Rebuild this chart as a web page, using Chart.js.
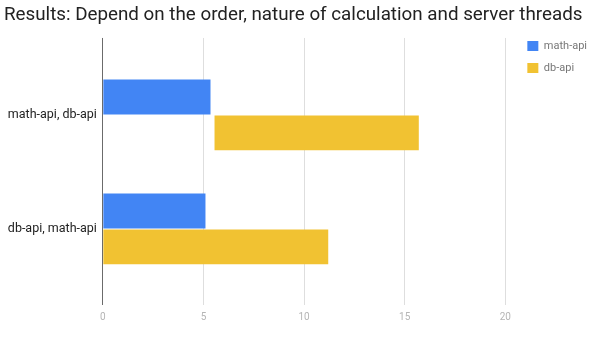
<!DOCTYPE html>
<html>
<head>
<meta charset="utf-8">
<script src="https://cdn.jsdelivr.net/npm/chart.js@4"></script>
<style>
  html, body { margin: 0; padding: 0; background: #fff; }
  #wrap { width: 600px; height: 340px; }
</style>
</head>
<body>
<div id="wrap"><canvas id="results-chart"></canvas></div>
<script>
// chart data
const categories = ['math-api, db-api', 'db-api, math-api'];
const mathApi = [5.35, 5.1];
// db-api bars are [start, end] pairs, the first run starts after math-api
const dbApi = [[5.55, 15.7], [0, 11.2]];
const xTicks = [0, 5, 10, 15, 20];

Chart.defaults.font.family = 'Roboto';

// zero line is dark, the rest light grey
const gridColor = c => (c.tick && c.tick.value === 0 ? '#6b6b6b' : '#dedede');
const useTicks = scale => { scale.ticks = xTicks.map(v => ({ value: v })); };

const ctx = document.getElementById('results-chart').getContext('2d');

new Chart(ctx, {
    type: 'bar',
    data: {
        labels: categories,
        datasets: [{
            label: 'math-api',
            data: mathApi,
            backgroundColor: '#4285F4',
            categoryPercentage: 0.63,
            barPercentage: 0.97,
        }, {
            label: 'db-api',
            data: dbApi,
            backgroundColor: '#F1C232',
            categoryPercentage: 0.63,
            barPercentage: 0.97,
        }],
    },
    options: {
        indexAxis: 'y',
        responsive: true,
        maintainAspectRatio: false,
        animation: false,
        layout: {
            padding: { left: 4, right: 3, bottom: 11 },
        },
        plugins: {
            title: {
                display: true,
                text: 'Results: Depend on the order, nature of calculation and server threads',
                align: 'start',
                color: '#222',
                font: { size: 18.8, weight: 'normal' },
                padding: { top: 4.5, bottom: 1.7 },
            },
            legend: {
                position: 'right',
                align: 'start',
                // empty title only pushes the items down below the chart title
                title: { display: true, text: '', font: { size: 10 }, padding: { top: 17.5, bottom: 0 } },
                labels: {
                    boxWidth: 11,
                    boxHeight: 10,
                    padding: 11,
                    color: '#777',
                    font: { size: 11 },
                },
            },
            tooltip: { enabled: false },
        },
        scales: {
            y: {
                grid: { display: false, drawTicks: false },
                border: { display: false },
                ticks: { color: '#222', font: { size: 12.5 }, padding: 6 },
            },
            // empty axis, only keeps a gap before the legend
            y2: {
                type: 'linear',
                position: 'right',
                grid: { display: false, drawTicks: false },
                border: { display: false },
                ticks: { display: false },
                afterFit: s => { s.width = 11; },
            },
            x: {
                min: 0,
                max: 20,
                afterBuildTicks: useTicks,
                grid: { color: gridColor, tickLength: 19 },
                border: { display: false },
                ticks: { color: '#b5b5b5', font: { size: 10 }, padding: 6 },
            },
            // top axis just extends the grid lines above the bars
            x2: {
                position: 'top',
                min: 0,
                max: 20,
                afterBuildTicks: useTicks,
                grid: { color: gridColor, tickLength: 20, drawOnChartArea: false },
                border: { display: false },
                ticks: { display: false },
                afterFit: s => { s.height = 29.2; },
            },
        },
    },
});
</script>
</body>
</html>
